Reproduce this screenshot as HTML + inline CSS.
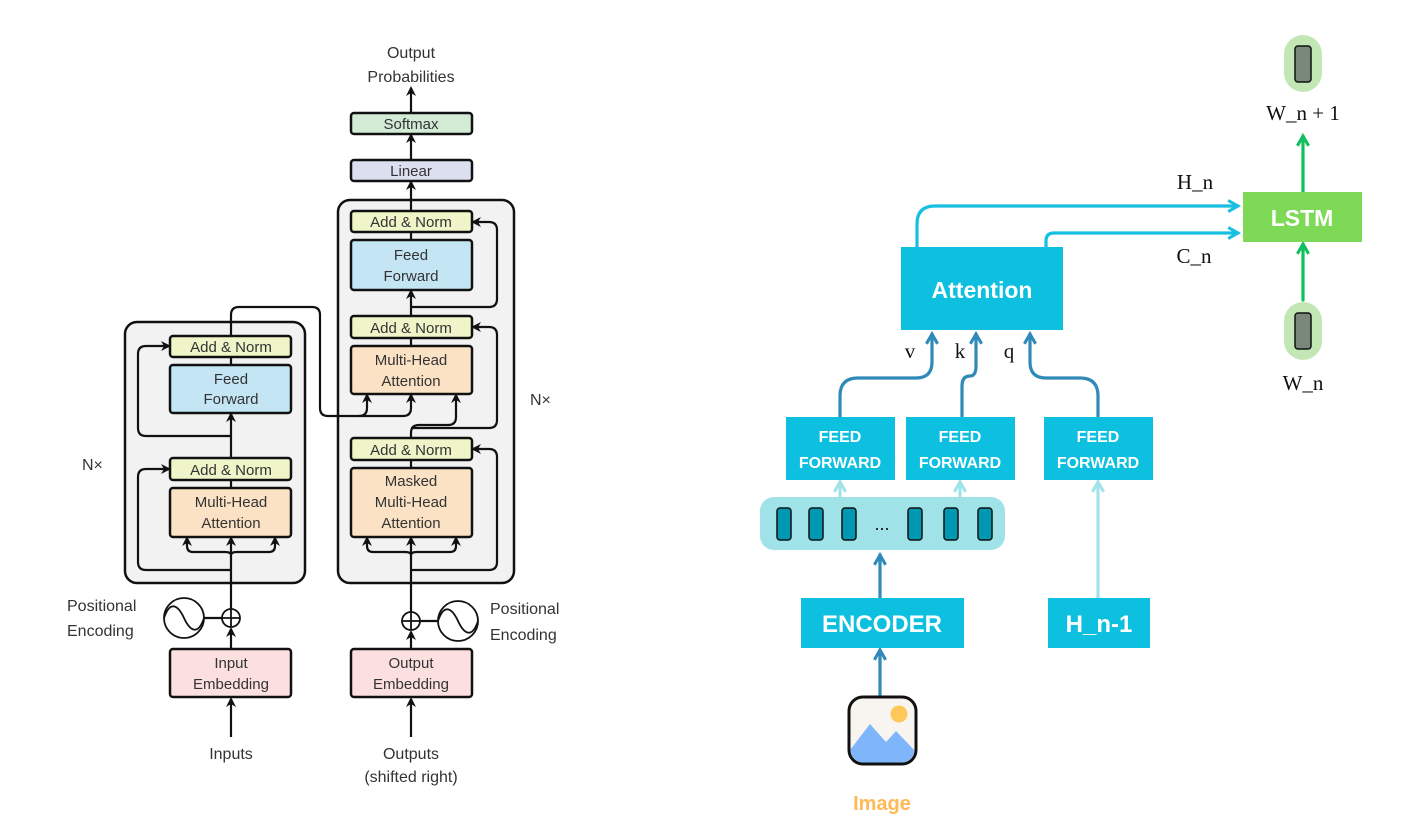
<!DOCTYPE html>
<html><head><meta charset="utf-8"><style>
html,body{margin:0;padding:0;background:#fff;}
svg{display:block;}
.s{font-family:"Liberation Sans",sans-serif;fill:#333;}
.sf{font-family:"Liberation Serif",serif;fill:#111;}
</style></head><body>
<svg width="1428" height="832" viewBox="0 0 1428 832" xmlns="http://www.w3.org/2000/svg">
<defs>
<marker id="ab" viewBox="0 0 10 10" markerWidth="10" markerHeight="10" refX="8" refY="5" orient="auto" markerUnits="userSpaceOnUse"><path d="M0,0 L10,5 L0,10 L3,5z" fill="#111"/></marker>
<marker id="ac" viewBox="0 0 10 10" markerWidth="14" markerHeight="14" refX="8" refY="5" orient="auto" markerUnits="userSpaceOnUse"><path d="M1,1 L8,5 L1,9" fill="none" stroke="#17bfe0" stroke-width="2.2"/></marker>
<marker id="ad" viewBox="0 0 10 10" markerWidth="14" markerHeight="14" refX="8" refY="5" orient="auto" markerUnits="userSpaceOnUse"><path d="M1,1 L8,5 L1,9" fill="none" stroke="#2f8ab8" stroke-width="2.2"/></marker>
<marker id="al" viewBox="0 0 10 10" markerWidth="14" markerHeight="14" refX="8" refY="5" orient="auto" markerUnits="userSpaceOnUse"><path d="M1,1 L8,5 L1,9" fill="none" stroke="#a2e3ea" stroke-width="2.2"/></marker>
<marker id="ag" viewBox="0 0 10 10" markerWidth="14" markerHeight="14" refX="8" refY="5" orient="auto" markerUnits="userSpaceOnUse"><path d="M1,1 L8,5 L1,9" fill="none" stroke="#12bf5e" stroke-width="2.2"/></marker>
</defs>

<!-- LEFT: Transformer -->
<rect x="125" y="322" width="180" height="261" rx="12" fill="#f2f2f2" stroke="#111" stroke-width="2.5"/>
<rect x="338" y="200" width="176" height="383" rx="12" fill="#f2f2f2" stroke="#111" stroke-width="2.5"/>

<g fill="none" stroke="#111" stroke-width="2.2">
<path d="M231 737 V699" marker-end="url(#ab)"/>
<path d="M231 649 V629" marker-end="url(#ab)"/>
<path d="M231 609 V538" marker-end="url(#ab)"/>
<path d="M231 480 V488"/>
<path d="M231 458 V414" marker-end="url(#ab)"/>
<path d="M231 357 V365"/>
<path d="M231 555 Q231 552 225 552 H193 Q187 552 187 546 V538" marker-end="url(#ab)"/>
<path d="M231 555 Q231 552 237 552 H269 Q275 552 275 546 V538" marker-end="url(#ab)"/>
<path d="M231 570 H146 Q138 570 138 562 V477 Q138 469 146 469 H169" marker-end="url(#ab)"/>
<path d="M231 436 H146 Q138 436 138 428 V354 Q138 346 146 346 H169" marker-end="url(#ab)"/>
<path d="M231 336 V315 Q231 307 239 307 H312 Q320 307 320 315 V408 Q320 416 328 416 H359 Q367 416 367 408 V395" marker-end="url(#ab)"/>
<path d="M359 416 H403 Q411 416 411 408 V395" marker-end="url(#ab)"/>
<path d="M411 737 V699" marker-end="url(#ab)"/>
<path d="M411 649 V632" marker-end="url(#ab)"/>
<path d="M411 612 V538" marker-end="url(#ab)"/>
<path d="M411 460 V468"/>
<path d="M411 555 Q411 552 405 552 H373 Q367 552 367 546 V538" marker-end="url(#ab)"/>
<path d="M411 555 Q411 552 417 552 H450 Q456 552 456 546 V538" marker-end="url(#ab)"/>
<path d="M411 570 H489 Q497 570 497 562 V457 Q497 449 489 449 H473" marker-end="url(#ab)"/>
<path d="M411 438 V433 Q411 425 419 425 H448 Q456 425 456 417 V395" marker-end="url(#ab)"/>
<path d="M411 428 H489 Q497 428 497 420 V335 Q497 327 489 327 H473" marker-end="url(#ab)"/>
<path d="M411 338 V346"/>
<path d="M411 316 V291" marker-end="url(#ab)"/>
<path d="M411 307 H489 Q497 307 497 299 V230 Q497 222 489 222 H473" marker-end="url(#ab)"/>
<path d="M411 232 V240"/>
<path d="M411 211 V182" marker-end="url(#ab)"/>
<path d="M411 160 V135" marker-end="url(#ab)"/>
<path d="M411 113 V88" marker-end="url(#ab)"/>
<path d="M204 618 H222"/>
<path d="M420 621 H438"/>
</g>

<g stroke="#111" stroke-width="2.5">
<rect x="170" y="336" width="121" height="21" rx="3" fill="#eff5c8"/>
<rect x="170" y="365" width="121" height="48" rx="3" fill="#c3e5f4"/>
<rect x="170" y="458" width="121" height="22" rx="3" fill="#eff5c8"/>
<rect x="170" y="488" width="121" height="49" rx="3" fill="#fbe2c4"/>
<rect x="351" y="211" width="121" height="21" rx="3" fill="#eff5c8"/>
<rect x="351" y="240" width="121" height="50" rx="3" fill="#c3e5f4"/>
<rect x="351" y="316" width="121" height="22" rx="3" fill="#eff5c8"/>
<rect x="351" y="346" width="121" height="48" rx="3" fill="#fbe2c4"/>
<rect x="351" y="438" width="121" height="22" rx="3" fill="#eff5c8"/>
<rect x="351" y="468" width="121" height="69" rx="3" fill="#fbe2c4"/>
<rect x="351" y="160" width="121" height="21" rx="3" fill="#dcdff0"/>
<rect x="351" y="113" width="121" height="21" rx="3" fill="#d2ebd5"/>
<rect x="170" y="649" width="121" height="48" rx="3" fill="#fce0e0"/>
<rect x="351" y="649" width="121" height="48" rx="3" fill="#fce0e0"/>
</g>
<g fill="none" stroke="#111" stroke-width="1.8">
<circle cx="231" cy="618" r="9" fill="#fff"/><path d="M222 618 H240 M231 609 V627"/>
<circle cx="411" cy="621" r="9" fill="#fff"/><path d="M402 621 H420 M411 612 V630"/>
<circle cx="184" cy="618" r="20"/><path d="M164 618 C170 600 178 605 184 618 C190 631 198 636 204 618"/>
<circle cx="458" cy="621" r="20"/><path d="M438 621 C444 603 452 608 458 621 C464 634 472 639 478 621"/>
</g>

<g class="s" font-size="15" text-anchor="middle">
<text x="231" y="352">Add &amp; Norm</text>
<text x="231" y="384">Feed</text><text x="231" y="404">Forward</text>
<text x="231" y="475">Add &amp; Norm</text>
<text x="231" y="507">Multi-Head</text><text x="231" y="528">Attention</text>
<text x="411" y="227">Add &amp; Norm</text>
<text x="411" y="260">Feed</text><text x="411" y="281">Forward</text>
<text x="411" y="333">Add &amp; Norm</text>
<text x="411" y="365">Multi-Head</text><text x="411" y="386">Attention</text>
<text x="411" y="455">Add &amp; Norm</text>
<text x="411" y="486">Masked</text><text x="411" y="507">Multi-Head</text><text x="411" y="528">Attention</text>
<text x="411" y="176">Linear</text>
<text x="411" y="129">Softmax</text>
<text x="231" y="668">Input</text><text x="231" y="689">Embedding</text>
<text x="411" y="668">Output</text><text x="411" y="689">Embedding</text>
<text x="231" y="759" font-size="16">Inputs</text>
<text x="411" y="759" font-size="16">Outputs</text>
<text x="411" y="782" font-size="16">(shifted right)</text>
<text x="411" y="58" font-size="16">Output</text>
<text x="411" y="82" font-size="16">Probabilities</text>
</g>
<g class="s" font-size="16">
<text x="67" y="611">Positional</text><text x="67" y="636">Encoding</text>
<text x="490" y="614">Positional</text><text x="490" y="640">Encoding</text>
<text x="82" y="470">N×</text>
<text x="530" y="405">N×</text>
</g>

<!-- RIGHT -->
<g fill="none" stroke-width="3.2" stroke-linecap="round">
<path d="M917 247 V224 Q917 206 935 206 H1238" stroke="#17bfe0" marker-end="url(#ac)"/>
<path d="M1046 247 V241 Q1046 233 1054 233 H1238" stroke="#17bfe0" marker-end="url(#ac)"/>
<path d="M840 417 V396 Q840 378 858 378 H916 Q932 378 932 362 V334" stroke="#2f8ab8" marker-end="url(#ad)"/>
<path d="M962 417 V386 Q962 376 970 376 Q976 376 976 366 V334" stroke="#2f8ab8" marker-end="url(#ad)"/>
<path d="M1098 417 V396 Q1098 378 1080 378 H1046 Q1030 378 1030 362 V334" stroke="#2f8ab8" marker-end="url(#ad)"/>
<path d="M880 598 V555" stroke="#2f8ab8" marker-end="url(#ad)"/>
<path d="M880 695 V650" stroke="#2f8ab8" marker-end="url(#ad)"/>
<path d="M840 497 V482" stroke="#a2e3ea" marker-end="url(#al)"/>
<path d="M960 497 V482" stroke="#a2e3ea" marker-end="url(#al)"/>
<path d="M1098 598 V482" stroke="#a2e3ea" marker-end="url(#al)"/>
<path d="M1303 192 V136" stroke="#12bf5e" marker-end="url(#ag)"/>
<path d="M1303 300 V244" stroke="#12bf5e" marker-end="url(#ag)"/>
</g>

<rect x="901" y="247" width="162" height="83" fill="#0dc0df"/>
<rect x="786" y="417" width="109" height="63" fill="#0dc0df"/>
<rect x="906" y="417" width="109" height="63" fill="#0dc0df"/>
<rect x="1044" y="417" width="109" height="63" fill="#0dc0df"/>
<rect x="801" y="598" width="163" height="50" fill="#0dc0df"/>
<rect x="1048" y="598" width="102" height="50" fill="#0dc0df"/>
<rect x="1243" y="192" width="119" height="50" fill="#7ed957"/>

<rect x="760" y="497" width="245" height="53" rx="14" fill="#9fe2e8"/>
<g fill="#0097b2" stroke="#111" stroke-width="1.5">
<rect x="777" y="508" width="14" height="32" rx="3"/>
<rect x="809" y="508" width="14" height="32" rx="3"/>
<rect x="842" y="508" width="14" height="32" rx="3"/>
<rect x="908" y="508" width="14" height="32" rx="3"/>
<rect x="944" y="508" width="14" height="32" rx="3"/>
<rect x="978" y="508" width="14" height="32" rx="3"/>
</g>
<text x="882" y="530" text-anchor="middle" font-family="Liberation Sans,sans-serif" font-size="18" fill="#111">...</text>

<rect x="1284" y="35" width="38" height="57" rx="19" fill="#c3e6b5"/>
<rect x="1295" y="46" width="16" height="36" rx="3" fill="#7a887c" stroke="#111" stroke-width="1.5"/>
<rect x="1284" y="302" width="38" height="58" rx="19" fill="#c3e6b5"/>
<rect x="1295" y="313" width="16" height="36" rx="3" fill="#7a887c" stroke="#111" stroke-width="1.5"/>

<rect x="849" y="697" width="67" height="67" rx="14" fill="#f8f5f1" stroke="#111" stroke-width="3"/>
<clipPath id="ic"><rect x="850.5" y="698.5" width="64" height="64" rx="13"/></clipPath>
<g clip-path="url(#ic)">
<path d="M850 750 L870 724 L886 742 L896 731 L916 752 V764 H850z" fill="#7fb6fb"/>
</g>
<circle cx="899" cy="714" r="8.5" fill="#ffc85a"/>

<g font-family="Liberation Sans,sans-serif" font-weight="bold" fill="#fff" text-anchor="middle">
<text x="982" y="298" font-size="23">Attention</text>
<text x="840" y="442" font-size="16">FEED</text><text x="840" y="468" font-size="16">FORWARD</text>
<text x="960" y="442" font-size="16">FEED</text><text x="960" y="468" font-size="16">FORWARD</text>
<text x="1098" y="442" font-size="16">FEED</text><text x="1098" y="468" font-size="16">FORWARD</text>
<text x="882" y="632" font-size="24">ENCODER</text>
<text x="1099" y="632" font-size="24">H_n-1</text>
<text x="1302" y="226" font-size="23">LSTM</text>
<text x="882" y="810" font-size="20" fill="#ffb957">Image</text>
</g>
<g class="sf" font-size="21" text-anchor="middle">
<text x="910" y="358">v</text>
<text x="960" y="358">k</text>
<text x="1009" y="358">q</text>
<text x="1195" y="189">H_n</text>
<text x="1194" y="263">C_n</text>
<text x="1303" y="120">W_n + 1</text>
<text x="1303" y="390">W_n</text>
</g>
</svg>
</body></html>
